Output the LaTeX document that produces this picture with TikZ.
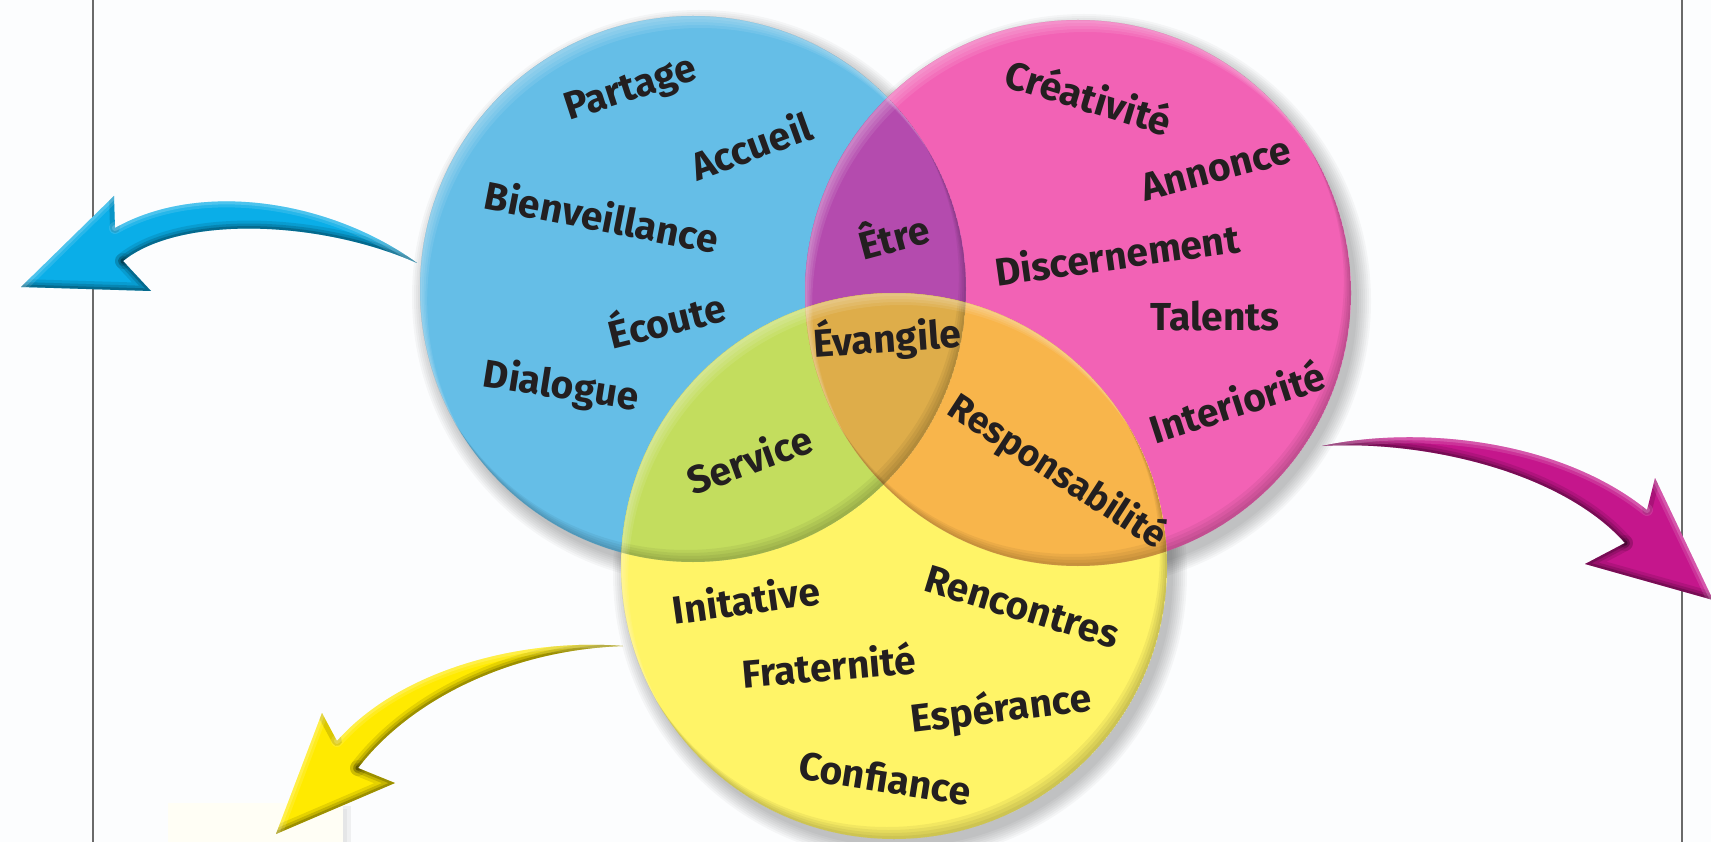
\documentclass[tikz,border=0pt]{standalone}
\usepackage{fontspec}
\setmainfont{Fira Sans}
\definecolor{bg}{RGB}{252,253,254}
\definecolor{cblue}{HTML}{65BEE7}
\definecolor{cpink}{HTML}{F262B5}
\definecolor{cyel}{HTML}{FFF467}
\definecolor{cpurp}{HTML}{B44BAE}
\definecolor{cgreen}{HTML}{C3DD5E}
\definecolor{corange}{HTML}{F8B54B}
\definecolor{ccenter}{HTML}{DEAD4A}
\definecolor{txt}{HTML}{231F20}
\definecolor{ablue}{HTML}{0AAEE8}
\definecolor{amag}{HTML}{C5168C}
\definecolor{ayel}{HTML}{FFEA00}
\definecolor{frameline}{HTML}{6A6A6A}
\tikzset{
  word/.style={font=\bfseries\fontsize{39}{42}\selectfont, text=txt, inner sep=0pt},
  rimlight/.style={white, opacity=0.09, even odd rule},
  rimdark/.style={black, opacity=0.05, even odd rule},
  dk1/.style={black, opacity=0.10, line width=16pt, line join=round, line cap=round},
  dk2/.style={black, opacity=0.14, line width=10pt, line join=round, line cap=round},
  dk3/.style={black, opacity=0.20, line width=5pt, line join=round, line cap=round},
  lt1/.style={white, opacity=0.12, line width=12pt, line join=round, line cap=round},
  lt2/.style={white, opacity=0.18, line width=6pt, line join=round, line cap=round},
}
\def\vennR{273pt}
% arrow edges
\def\bluetop{(417,263) .. controls (330,200) and (200,180) .. (115,228)}
\def\bluebot{(123,261) .. controls (180,215) and (320,220) .. (417,263)}
\def\bluearrow{\bluetop -- (114,196) -- (21,287) -- (151,291) -- \bluebot -- cycle}
\def\magtop{(1322,446) .. controls (1420,425) and (1560,440) .. (1647,510)}
\def\magbot{(1625,543) .. controls (1560,470) and (1420,440) .. (1322,446)}
\def\magarrow{\magtop -- (1655,478) -- (1713,600) -- (1585,564) -- \magbot -- cycle}
\def\yeltop{(623,646) .. controls (520,638) and (400,670) .. (337,741)}
\def\yelbot{(358,768) .. controls (410,700) and (510,650) .. (623,646)}
\def\yelarrow{\yeltop -- (322,713) -- (276,834) -- (395,783) -- \yelbot -- cycle}
\begin{document}
\begin{tikzpicture}[x=1pt,y=-1pt]
\useasboundingbox (0,0) rectangle (1711,842);
\fill[bg] (0,0) rectangle (1711,842);
% frame lines
\draw[frameline, line width=1.3pt] (93,0) -- (93,842);
\draw[frameline, line width=1.3pt] (1682,0) -- (1682,842);
% pale box bottom left
\fill[black, opacity=0.05] (343,806) rectangle (351,842);
\fill[black, opacity=0.04] (343,809) rectangle (347,842);
\fill[white] (168,803) rectangle (343,842);
\fill[yellow, opacity=0.04] (168,803) rectangle (343,842);

\coordinate (A) at (693,289);
\coordinate (B) at (1078,293);
\coordinate (C) at (894,566);

% drop shadows
\foreach \cx/\cy in {693/289,1078/293,894/566}{
  \foreach \i in {0,...,7}{
    \fill[black, opacity=0.03] (\cx+6,\cy+8) circle ({273pt+2pt*\i});
  }
}
% circle fills
\fill[cblue] (A) circle (\vennR);
\fill[cpink] (B) circle (\vennR);
\fill[cyel] (C) circle (\vennR);
\begin{scope}
  \clip (A) circle (\vennR);
  \fill[cpurp] (B) circle (\vennR);
  \fill[cgreen] (C) circle (\vennR);
\end{scope}
\begin{scope}
  \clip (B) circle (\vennR);
  \fill[corange] (C) circle (\vennR);
\end{scope}
\begin{scope}
  \clip (A) circle (\vennR);
  \clip (B) circle (\vennR);
  \fill[ccenter] (C) circle (\vennR);
\end{scope}
% rims
\foreach \cx/\cy in {693/289,1078/293,894/566}{
  \begin{scope}
    \clip (\cx,\cy) circle (\vennR);
    \foreach \d in {3,6,9,12}{
      \fill[rimlight] (\cx,\cy) circle (\vennR) (\cx+0.6*\d,\cy+\d) circle (\vennR);
      \fill[rimdark] (\cx,\cy) circle (\vennR) (\cx-0.6*\d,\cy-\d) circle (\vennR);
    }
  \end{scope}
}

% arrows
\fill[ablue] \bluearrow;
\begin{scope}
  \clip \bluearrow;
  \foreach \s in {dk1,dk2,dk3}{
    \draw[\s] \bluebot;
    \draw[\s] (123,261) -- (151,291) -- (21,287);
  }
  \draw[dk2] (115,228) -- (114,196);
  \foreach \s in {lt1,lt2}{
    \draw[\s] \bluetop;
    \draw[\s] (114,196) -- (21,287);
  }
\end{scope}
\fill[amag] \magarrow;
\begin{scope}
  \clip \magarrow;
  \foreach \s in {dk1,dk2,dk3}{
    \draw[\s] \magbot;
    \draw[\s] (1625,543) -- (1585,564) -- (1713,600);
  }
  \draw[dk2] (1647,510) -- (1655,478);
  \foreach \s in {lt1,lt2}{
    \draw[\s] \magtop;
    \draw[\s] (1655,478) -- (1713,600);
  }
\end{scope}
\fill[ayel] \yelarrow;
\begin{scope}
  \clip \yelarrow;
  \foreach \s in {dk1,dk2,dk3}{
    \draw[\s] \yelbot;
    \draw[\s] (358,768) -- (395,783) -- (276,834);
  }
  \draw[dk2] (337,741) -- (322,713);
  \foreach \s in {lt1,lt2}{
    \draw[\s] \yeltop;
    \draw[\s] (322,713) -- (276,834);
  }
\end{scope}

% words
\node[word, rotate=18]  (partage)  at (631,91)   {Partage};
\node[word, rotate=20]  (accueil)  at (751,145)  {Accueil};
\node[word, rotate=-11] (bienv)    at (602,216)  {Bienveillance};
\node[word, rotate=14]  (ecoute)   at (666,317)  {Écoute};
\node[word, rotate=-9]  (dialogue) at (561,387)  {Dialogue};
\node[word, rotate=15]  (etre)     at (893,234)  {Être};
\node[word, rotate=4]   (evangile) at (887,338)  {Évangile};
\node[word, rotate=20]  (service)  at (749,459)  {Service};
\node[word, rotate=-17] (creat)    at (1089,96)  {Créativité};
\node[word, rotate=15]  (annonce)  at (1216,169) {Annonce};
\node[word, rotate=8]   (discern)  at (1117,254) {Discernement};
\node[word, rotate=0]   (talents)  at (1215,316) {Talents};
\node[word, rotate=18]  (interior) at (1237,401) {Interiorité};
\node[word, rotate=-33, font=\bfseries\fontsize{37}{40}\selectfont] (respons) at (1057,472) {Responsabilité};
\node[word, rotate=8]   (initative) at (746,599) {Initative};
\node[word, rotate=-17] (rencontres) at (1022,607) {Rencontres};
\node[word, rotate=5]   (fratern)  at (829,665)  {Fraternité};
\node[word, rotate=7]   (esperance) at (1001,710) {Espérance};
\node[word, rotate=-9]  (confiance) at (885,778) {Confiance};
\end{tikzpicture}
\end{document}
